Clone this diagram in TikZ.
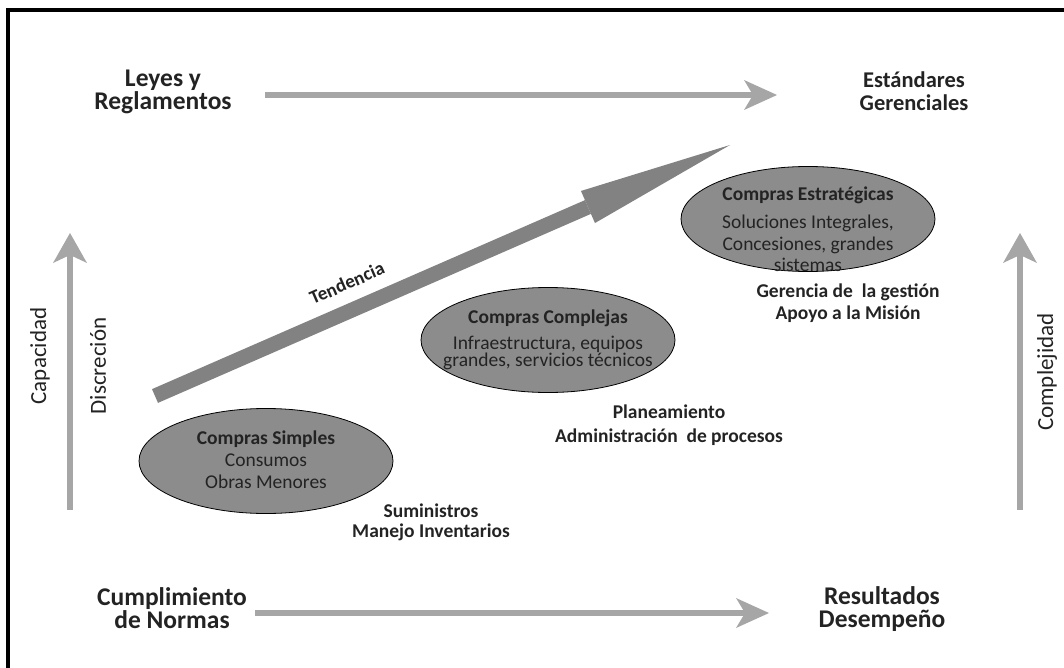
\documentclass[tikz,border=0pt]{standalone}
\usepackage{fontspec}
\setmainfont{Carlito}
\usepackage{tikz}
\usetikzlibrary{arrows.meta,shapes.geometric}
\usepackage{xcolor}
\definecolor{flowgray}{RGB}{166,166,166}
\definecolor{trendgray}{RGB}{130,130,130}
\definecolor{compragray}{RGB}{140,140,140}
\definecolor{inkgray}{RGB}{35,35,35}

\tikzset{
  compra/.style={ellipse,draw=black,line width=.8pt,fill=compragray,
    minimum width=254pt,minimum height=105pt,inner sep=0pt},
  comprastext/.style={align=center,text=inkgray,font=\fontsize{19.5}{22}\selectfont},
  biglabel/.style={align=center,text=inkgray,font=\fontsize{25.5}{23.5}\selectfont\bfseries},
  smalllabel/.style={align=center,text=inkgray,font=\fontsize{19.5}{22}\selectfont\bfseries},
  sidelabel/.style={rotate=90,text=inkgray,font=\fontsize{23}{23}\selectfont},
  flowarrow/.style={draw=flowgray,line width=6pt,
    -{Stealth[length=33pt,width=30pt,inset=9pt,line width=0pt]}},
}

\begin{document}
\begin{tikzpicture}[x=1pt,y=-1pt]
        % background
        \useasboundingbox (0,0) rectangle (1064,668);
        \draw[line width=3.5pt] (8,668) -- (8,10) -- (1064,10);
        % ellipses
        \foreach \x/\y/\n in {266/461/simples,548/340/complejas,808/219/estrategicas}
          \node[compra] (\n) at (\x,\y) {};
        \node[comprastext] (simples-txt) at (266,460)
          {\textbf{Compras Simples}\\ Consumos\\ Obras Menores};
        \node[comprastext,font=\fontsize{19.5}{17}\selectfont] (complejas-txt) at (548,340)
          {\textbf{Compras Complejas}\\[9pt] Infraestructura, equipos\\ grandes, servicios técnicos};
        \node[comprastext,font=\fontsize{19.5}{21.5}\selectfont] (estrategicas-txt) at (808,229)
          {\textbf{Compras Estratégicas}\\[7pt] Soluciones Integrales,\\ Concesiones, grandes\\ sistemas};
        % labels
        \node[biglabel] (leyes) at (163,92) {Leyes y\\ Reglamentos};
        \node[biglabel,font=\fontsize{22.5}{23}\selectfont\bfseries] (estandares) at (914,91) {Estándares\\ Gerenciales};
        \node[biglabel] (cumplimiento) at (172,608) {Cumplimiento\\ de Normas};
        \node[biglabel] (resultados) at (882,609) {Resultados\\ Desempeño};
        \node[smalllabel,font=\fontsize{19.5}{20}\selectfont\bfseries] (suministros) at (431,522) {Suministros\\ Manejo Inventarios};
        \node[smalllabel,font=\fontsize{19.5}{24}\selectfont\bfseries] (planeamiento) at (669,425) {Planeamiento\\ Administración\ \ de procesos};
        \node[smalllabel] (gerencia) at (848,303) {Gerencia de\ \ la gestión\\ Apoyo a la Misión};
        % on left
        \coordinate (cap-a) at (70,510);
        \coordinate (cap-b) at (70,233);
        \draw[flowarrow,-{Stealth[length=30pt,width=34pt,inset=8pt,line width=0pt]}] (cap-a) -- (cap-b);
        \node[sidelabel] (capacidad) at (40,356) {Capacidad};
        \node[sidelabel] (discrecion) at (98,366) {Discreción};
        % on right
        \coordinate (comp-a) at (1020,510);
        \coordinate (comp-b) at (1020,233);
        \draw[flowarrow,-{Stealth[length=30pt,width=34pt,inset=8pt,line width=0pt]}] (comp-a) -- (comp-b);
        \node[sidelabel] (complejidad) at (1047,372) {Complejidad};
        % top and bottom
        \coordinate (top-a) at (265,95);
        \coordinate (top-b) at (777,95);
        \draw[flowarrow] (top-a) -- (top-b);
        \coordinate (bot-a) at (255,613);
        \coordinate (bot-b) at (769,613);
        \draw[flowarrow] (bot-a) -- (bot-b);
        % in center
        \coordinate (trend-a) at (155,396);
        \coordinate (trend-b) at (730,145);
        \draw[trendgray,line width=15pt,-{Triangle[length=155pt,width=35pt,line width=0pt]}] (trend-a) -- (trend-b);
        \node[font=\fontsize{19}{19}\selectfont\bfseries,text=inkgray,rotate=23.6,inner sep=0pt] (tendencia) at (347,283) {Tendencia};
      \end{tikzpicture}
\end{document}
